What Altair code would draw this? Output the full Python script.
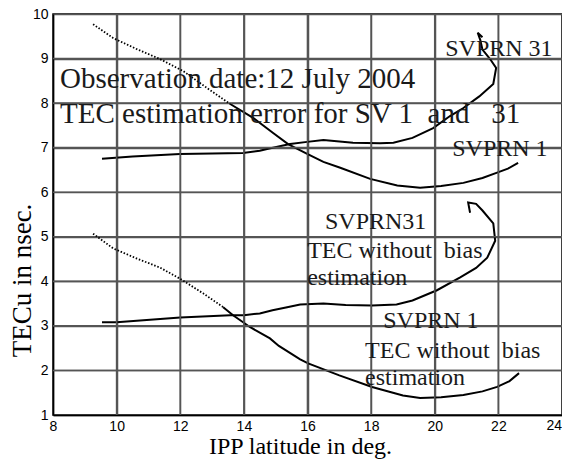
import altair as alt
import pandas as pd

# ---- data ----
# SVPRN 1, TEC estimation error (upper): dotted start, then solid
sv1_err_dot_x = [9.26, 9.89, 10.64, 11.36, 12.09, 12.84, 13.57]
sv1_err_dot_y = [9.77, 9.46, 9.21, 8.99, 8.72, 8.34, 7.98]
sv1_err_x = [13.57, 14.29, 14.92, 15.39, 15.99, 16.5, 17.03, 17.97, 18.82, 19.54, 20.2, 20.9, 21.5, 21.96, 22.3, 22.62]
sv1_err_y = [7.98, 7.67, 7.33, 7.08, 6.86, 6.68, 6.55, 6.3, 6.15, 6.1, 6.14, 6.21, 6.32, 6.44, 6.53, 6.66]

# SVPRN 1, TEC without bias estimation (lower)
sv1_raw_dot_x = [9.26, 9.89, 10.64, 11.36, 11.99, 12.72, 13.35]
sv1_raw_dot_y = [5.07, 4.74, 4.51, 4.31, 4.06, 3.73, 3.42]
sv1_raw_x = [13.35, 13.66, 14.2, 14.82, 15.1, 15.77, 16.02, 17.0, 18.03, 19.0, 19.54, 20.2, 20.9, 21.5, 21.96, 22.35, 22.65]
sv1_raw_y = [3.42, 3.24, 2.97, 2.72, 2.55, 2.25, 2.16, 1.89, 1.63, 1.44, 1.38, 1.4, 1.45, 1.53, 1.63, 1.76, 1.94]

# SVPRN 31, TEC estimation error (upper)
sv31_err_x = [9.54, 10.5, 11.99, 13.0, 13.97, 14.5, 14.73, 15.45, 15.99, 16.5, 17.43, 18.28, 18.7, 19.3, 19.95, 20.48, 20.9, 21.4, 21.84, 21.93, 21.74, 21.5, 21.43, 21.35, 21.5]
sv31_err_y = [6.75, 6.8, 6.86, 6.87, 6.88, 6.93, 6.97, 7.08, 7.13, 7.17, 7.11, 7.1, 7.11, 7.22, 7.44, 7.71, 7.89, 8.15, 8.43, 8.79, 8.99, 9.2, 9.42, 9.58, 9.48]

# SVPRN 31, TEC without bias estimation (lower)
sv31_raw_x = [9.54, 10.0, 12.0, 13.57, 14.0, 14.5, 14.9, 15.36, 15.77, 16.5, 17.2, 18.03, 18.8, 19.3, 20.07, 20.8, 21.3, 21.65, 21.9, 21.84, 21.5, 21.3, 21.05, 21.11]
sv31_raw_y = [3.08, 3.08, 3.19, 3.24, 3.24, 3.28, 3.35, 3.42, 3.48, 3.5, 3.47, 3.46, 3.48, 3.57, 3.8, 4.09, 4.3, 4.53, 4.91, 5.3, 5.59, 5.74, 5.77, 5.54]

x_ticks = [8, 10, 12, 14, 16, 18, 20, 22, 24]
y_ticks = [1, 2, 3, 4, 5, 6, 7, 8, 9, 10]

NB = "\u00a0"
big_texts = ["Observation date:12 July 2004",
             "TEC estimation error for SV 1" + NB + " and" + NB + NB + " 31"]
big_x = [8.22, 8.22]
big_y = [8.34, 7.55]

small_texts = ["SVPRN 31", "SVPRN 1", "SVPRN31",
               "TEC without" + NB + " bias", "estimation",
               "SVPRN 1", "TEC without" + NB + " bias", "estimation"]
small_x = [20.33, 20.55, 16.55, 15.99, 15.99, 18.38, 17.81, 17.81]
small_y = [9.05, 6.82, 5.18, 4.53, 3.91, 2.95, 2.28, 1.67]

X_MIN, X_MAX = x_ticks[0], x_ticks[-1]
Y_MIN, Y_MAX = y_ticks[0], y_ticks[-1]


def frame(name, xs, ys):
    return pd.DataFrame({"x": xs, "y": ys, "curve": name, "order": range(len(xs))})


solid = pd.concat([
    frame("sv1_err", sv1_err_x, sv1_err_y),
    frame("sv1_raw", sv1_raw_x, sv1_raw_y),
    frame("sv31_err", sv31_err_x, sv31_err_y),
    frame("sv31_raw", sv31_raw_x, sv31_raw_y),
])
dotted = pd.concat([
    frame("sv1_err_d", sv1_err_dot_x, sv1_err_dot_y),
    frame("sv1_raw_d", sv1_raw_dot_x, sv1_raw_dot_y),
])
big = pd.DataFrame({"x": big_x, "y": big_y, "t": big_texts})
small = pd.DataFrame({"x": small_x, "y": small_y, "t": small_texts})
last_tick = pd.DataFrame({"x": [X_MAX], "y": [Y_MIN], "t": [str(X_MAX)]})

# grid lines as two-point paths along the tick values
grid_rows = []
for v in x_ticks[1:-1]:
    grid_rows += [{"x": float(v), "y": float(Y_MIN), "curve": f"gx{v}", "order": 0},
                  {"x": float(v), "y": float(Y_MAX), "curve": f"gx{v}", "order": 1}]
for v in y_ticks[1:-1]:
    grid_rows += [{"x": float(X_MIN), "y": float(v), "curve": f"gy{v}", "order": 0},
                  {"x": float(X_MAX), "y": float(v), "curve": f"gy{v}", "order": 1}]
grid = pd.DataFrame(grid_rows)

xscale = alt.Scale(domain=[X_MIN, X_MAX], nice=False, zero=False)
yscale = alt.Scale(domain=[Y_MIN, Y_MAX], nice=False, zero=False)

xaxis = alt.Axis(values=x_ticks[:-1], title="IPP latitude in deg.", grid=True, ticks=False,
                 gridColor="#555555", gridWidth=1.5, gridOpacity=1,
                 labelPadding=4, labelFlush=False,
                 titleBaseline="alphabetic", titleY=38, titleX=247, titleFontSize=24)
yaxis = alt.Axis(values=y_ticks, title="TECu in nsec.", grid=True, ticks=False,
                 gridColor="#555555", gridWidth=1.5, gridOpacity=1,
                 labelPadding=5,
                 titleBaseline="alphabetic", titleX=-23, titleY=266,
                 titleAlign="center", titleAngle=270, titleFontSize=27)

base_solid = alt.Chart(solid).mark_line(color="black", strokeWidth=2).encode(
    x=alt.X("x:Q", scale=xscale, axis=xaxis),
    y=alt.Y("y:Q", scale=yscale, axis=yaxis),
    detail="curve:N",
    order="order:Q",
)
grid_layer = alt.Chart(grid).mark_line(color="#555555", strokeWidth=1.6).encode(
    x=alt.X("x:Q", scale=xscale),
    y=alt.Y("y:Q", scale=yscale),
    detail="curve:N",
    order="order:Q",
)
base_dot = alt.Chart(dotted).mark_line(color="black", strokeWidth=1.8, strokeDash=[1.5, 1.8]).encode(
    x=alt.X("x:Q", scale=xscale),
    y=alt.Y("y:Q", scale=yscale),
    detail="curve:N",
    order="order:Q",
)
big_text = alt.Chart(big).mark_text(font="Liberation Serif", fontSize=29, align="left",
                                    baseline="alphabetic", color="#1a1a1a").encode(
    x=alt.X("x:Q", scale=xscale), y=alt.Y("y:Q", scale=yscale), text="t:N")
small_text = alt.Chart(small).mark_text(font="Liberation Serif", fontSize=24, align="left",
                                        baseline="alphabetic", color="#1a1a1a").encode(
    x=alt.X("x:Q", scale=xscale), y=alt.Y("y:Q", scale=yscale), text="t:N")
last_label = alt.Chart(last_tick).mark_text(font="Liberation Sans", fontSize=14, align="right",
                                            baseline="top", dy=4, color="black").encode(
    x=alt.X("x:Q", scale=xscale), y=alt.Y("y:Q", scale=yscale), text="t:N")

chart = alt.layer(base_solid, grid_layer, base_dot, big_text, small_text, last_label).properties(
    width=509, height=401,
    autosize=alt.AutoSizeParams(type="none"),
    padding={"left": 45, "top": 6, "right": 0, "bottom": 48},
).configure_view(stroke="black", strokeWidth=1.5).configure_axis(
    domainColor="black", domainWidth=1.5,
    labelFont="Liberation Sans", labelFontSize=14, labelColor="black",
    titleFont="Liberation Serif", titleFontWeight="normal", titleColor="black",
)

chart.save("out.html", embed_options={"renderer": "svg", "actions": False})
